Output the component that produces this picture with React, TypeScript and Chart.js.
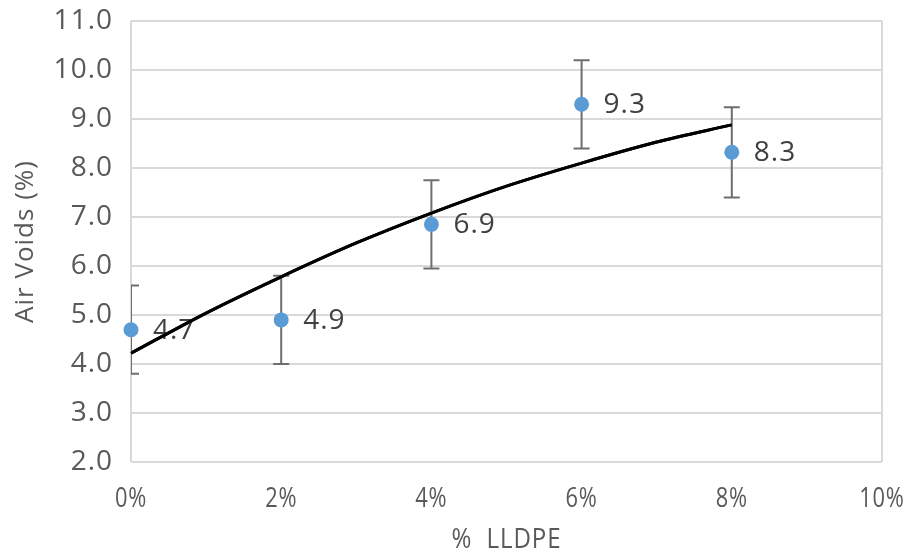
import React, { useEffect, useRef } from "react";
import { Chart, registerables } from "chart.js";
Chart.register(...registerables);

const xValues = [0, 2, 4, 6, 8];
const airVoids = [4.7, 4.9, 6.85, 9.3, 8.32];
const errors = [0.9, 0.9, 0.9, 0.9, 0.92];
const labels = ["4.7", "4.9", "6.9", "9.3", "8.3"];
const trendX = [0, 1, 2, 3, 4, 5, 6, 7, 8];
const trendY = [4.22, 5.04, 5.78, 6.47, 7.08, 7.63, 8.1, 8.53, 8.88];
const xTitle = "%  LLDPE";
const yTitle = "Air Voids (%)";

const FONT = "'Open Sans', 'DejaVu Sans', sans-serif";
const GRAY = "#595959";

const spacing = {
  id: "spacing",
  beforeDraw(chart: any) {
    chart.ctx.letterSpacing = "1px";
  },
};

const extras = {
  id: "extras",
  afterDatasetsDraw(chart: any) {
    const { ctx, chartArea, scales } = chart;
    const xs = scales.x, ys = scales.y;
    ctx.save();
    ctx.beginPath();
    ctx.rect(chartArea.left, chartArea.top, chartArea.right - chartArea.left, chartArea.bottom - chartArea.top);
    ctx.clip();
    ctx.strokeStyle = "#6e6e6e";
    ctx.lineWidth = 2;
    xValues.forEach((x, i) => {
      const px = xs.getPixelForValue(x);
      const top = ys.getPixelForValue(airVoids[i] + errors[i]);
      const bot = ys.getPixelForValue(airVoids[i] - errors[i]);
      ctx.beginPath();
      ctx.moveTo(px, top); ctx.lineTo(px, bot);
      ctx.moveTo(px - 8, top); ctx.lineTo(px + 8, top);
      ctx.moveTo(px - 8, bot); ctx.lineTo(px + 8, bot);
      ctx.stroke();
    });
    ctx.restore();
    ctx.save();
    ctx.fillStyle = "#5B9BD5";
    xValues.forEach((x, i) => {
      ctx.beginPath();
      ctx.arc(xs.getPixelForValue(x), ys.getPixelForValue(airVoids[i]), 7.5, 0, Math.PI * 2);
      ctx.fill();
    });
    ctx.fillStyle = "#404040";
    ctx.font = `28px ${FONT}`;
    ctx.letterSpacing = "1px";
    ctx.textAlign = "left";
    ctx.textBaseline = "middle";
    xValues.forEach((x, i) => {
      ctx.fillText(labels[i], xs.getPixelForValue(x) + 22, ys.getPixelForValue(airVoids[i]) + 1);
    });
    ctx.restore();
    const trend = chart.getDatasetMeta(1);
    if (trend && trend.dataset) {
      ctx.save();
      trend.dataset.draw(ctx, chartArea);
      ctx.restore();
    }
  },
  afterDraw(chart: any) {
    const { ctx, chartArea, scales } = chart;
    const xs = scales.x;
    ctx.save();
    ctx.fillStyle = GRAY;
    ctx.font = `28px ${FONT}`;
    ctx.letterSpacing = "1px";
    ctx.textAlign = "center";
    ctx.textBaseline = "middle";
    xs.ticks.forEach((t: any) => {
      const px = xs.getPixelForValue(t.value);
      ctx.save();
      ctx.translate(px, 499);
      ctx.scale(0.78, 1);
      ctx.fillText(t.value + "%", 0, 0);
      ctx.restore();
    });
    ctx.save();
    ctx.translate((chartArea.left + chartArea.right) / 2, 540);
    ctx.scale(0.86, 1);
    ctx.fillText(xTitle, 0, 0);
    ctx.restore();
    ctx.restore();
  },
};

export default function App() {
  const ref = useRef<HTMLCanvasElement>(null);
  useEffect(() => {
    const chart = new Chart(ref.current!, {
      type: "scatter",
      data: {
        datasets: [
          {
            label: "Air Voids",
            data: xValues.map((x, i) => ({ x, y: airVoids[i] })),
            pointRadius: 0,
            showLine: false,
            backgroundColor: "#5B9BD5",
          },
          {
            label: "Trend",
            data: trendX.map((x, i) => ({ x, y: trendY[i] })),
            showLine: true,
            pointRadius: 0,
            borderColor: "#000000",
            borderWidth: 3,
            tension: 0.4,
            cubicInterpolationMode: "monotone",
          } as any,
        ],
      },
      options: {
        animation: false,
        responsive: false,
        layout: { padding: { top: 21, right: 23, left: 0, bottom: 0 } },
        plugins: { legend: { display: false }, tooltip: { enabled: false } },
        scales: {
          x: {
            type: "linear",
            min: 0,
            max: 10,
            ticks: {
              stepSize: 2,
              display: false,
            },
            grid: {
              color: (c: any) => (c.index === 0 || c.index === 5 ? "#d9d9d9" : "rgba(0,0,0,0)"),
              lineWidth: 2,
              drawTicks: false,
            },
            border: { display: false },
            title: { display: false, text: xTitle },
            afterFit: (s: any) => {
              s.height = 92;
              s.paddingLeft = 0;
              s.paddingRight = 0;
            },
          },
          y: {
            min: 2,
            max: 11,
            ticks: {
              stepSize: 1,
              color: GRAY,
              font: { family: FONT, size: 28 },
              padding: 18,
              callback: (v: any) => Number(v).toFixed(1),
            },
            grid: { color: "#d9d9d9", lineWidth: 2, drawTicks: false },
            border: { display: false },
            title: {
              display: true,
              text: yTitle,
              color: GRAY,
              font: { family: FONT, size: 26 },
              padding: { top: 10, bottom: 0 },
            },
            afterFit: (s: any) => {
              s.width = 131;
              s.paddingTop = 0;
              s.paddingBottom = 0;
            },
          },
        },
      },
      plugins: [spacing, extras],
    });
    return () => chart.destroy();
  }, []);
  return (
    <div style={{ position: "fixed", left: 0, top: 0, width: 905, height: 554, background: "#fff" }}>
      <canvas ref={ref} width={905} height={554} style={{ width: 905, height: 554 }} />
    </div>
  );
}
